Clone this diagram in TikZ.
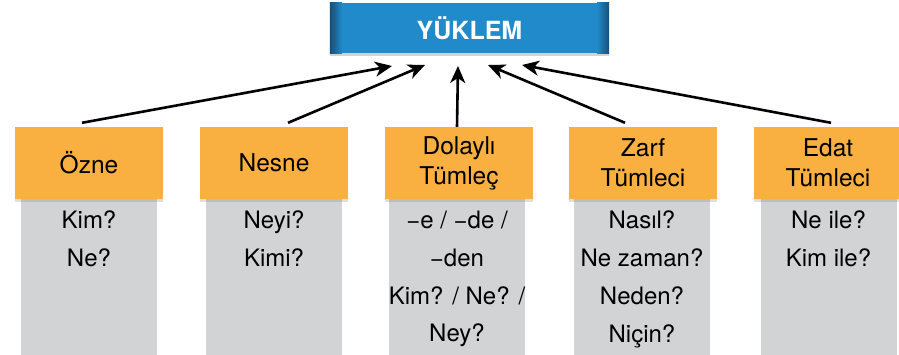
\documentclass[tikz,border=0pt]{standalone}
\usepackage{fontspec}
\setmainfont{TeX Gyre Heros}
\usetikzlibrary{arrows.meta,shadows}
\definecolor{ykblue}{RGB}{32,138,202}
\definecolor{ykdark}{RGB}{22,78,118}
\definecolor{tmorange}{RGB}{250,176,64}
\definecolor{tmgray}{RGB}{209,211,212}
\tikzset{
 head/.style={fill=tmorange, minimum width=148pt, minimum height=72pt, inner sep=0pt, align=center,
   font=\fontsize{24.5}{30}\selectfont, drop shadow={shadow xshift=0pt, shadow yshift=-3pt, opacity=0.25}},
 body/.style={fill=tmgray, minimum width=136pt, minimum height=158pt, anchor=north, inner sep=0pt},
 qtext/.style={anchor=north, align=center, inner sep=0pt, font=\fontsize{24}{37.7}\selectfont},
 ok/.style={-{Stealth[length=17pt,width=15pt,inset=5pt]}, line width=2.6pt}
}
\begin{document}
\begin{tikzpicture}[x=1pt,y=-1pt]
\useasboundingbox (0,0) rectangle (899,355);

\node[fill=ykblue, minimum width=279pt, minimum height=50pt, inner sep=0pt,
  drop shadow={shadow xshift=0pt, shadow yshift=-3pt, opacity=0.35}] (yuklem) at (469.5,28) {};
\fill[left color=ykdark, right color=ykblue] (yuklem.north west) rectangle ([xshift=12pt]yuklem.south west);
\fill[left color=ykblue, right color=ykdark] ([xshift=-12pt]yuklem.north east) rectangle (yuklem.south east);
\node[text=white, font=\fontsize{25}{30}\selectfont\bfseries] (yuklemtext) at (yuklem) {YÜKLEM};

\node[body] (g1) at (89,199) {};
\node[body] (g2) at (274,199) {};
\node[body] (g3) at (457,199) {};
\node[body] (g4) at (642,199) {};
\node[body] (g5) at (828.5,199) {};

\node[head] (ozne) at (89,163) {Özne};
\node[head] (nesne) at (274,163) {Nesne};
\node[head] (dolayli) at (459,163) {Dolaylı\\Tümleç};
\node[head] (zarf) at (643,163) {Zarf\\Tümleci};
\node[head] (edat) at (828,163) {Edat\\Tümleci};

\node[qtext] (q1) at (89,211) {Kim?\\Ne?};
\node[qtext] (q2) at (274,211) {Neyi?\\Kimi?};
\node[qtext] (q3) at (457,211) {−e / −de /\\−den\\Kim? / Ne? /\\Ney?};
\node[qtext] (q4) at (642,211) {Nasıl?\\Ne zaman?\\Neden?\\Niçin?};
\node[qtext] (q5) at (828.5,211) {Ne ile?\\Kim ile?};

\coordinate (t1) at (392,66);
\coordinate (t2) at (425,65);
\coordinate (t3) at (458,66);
\coordinate (t4) at (488,65);
\coordinate (t5) at (522,65);

\draw[ok] ([xshift=-7pt,yshift=4pt]ozne.north) -- (t1);
\draw[ok] ([xshift=14pt,yshift=4pt]nesne.north) -- (t2);
\draw[ok] ([xshift=-2pt]dolayli.north) -- (t3);
\draw[ok] ([xshift=-18pt,yshift=4pt]zarf.north) -- (t4);
\draw[ok] ([xshift=3pt,yshift=4pt]edat.north) -- (t5);

\end{tikzpicture}
\end{document}
